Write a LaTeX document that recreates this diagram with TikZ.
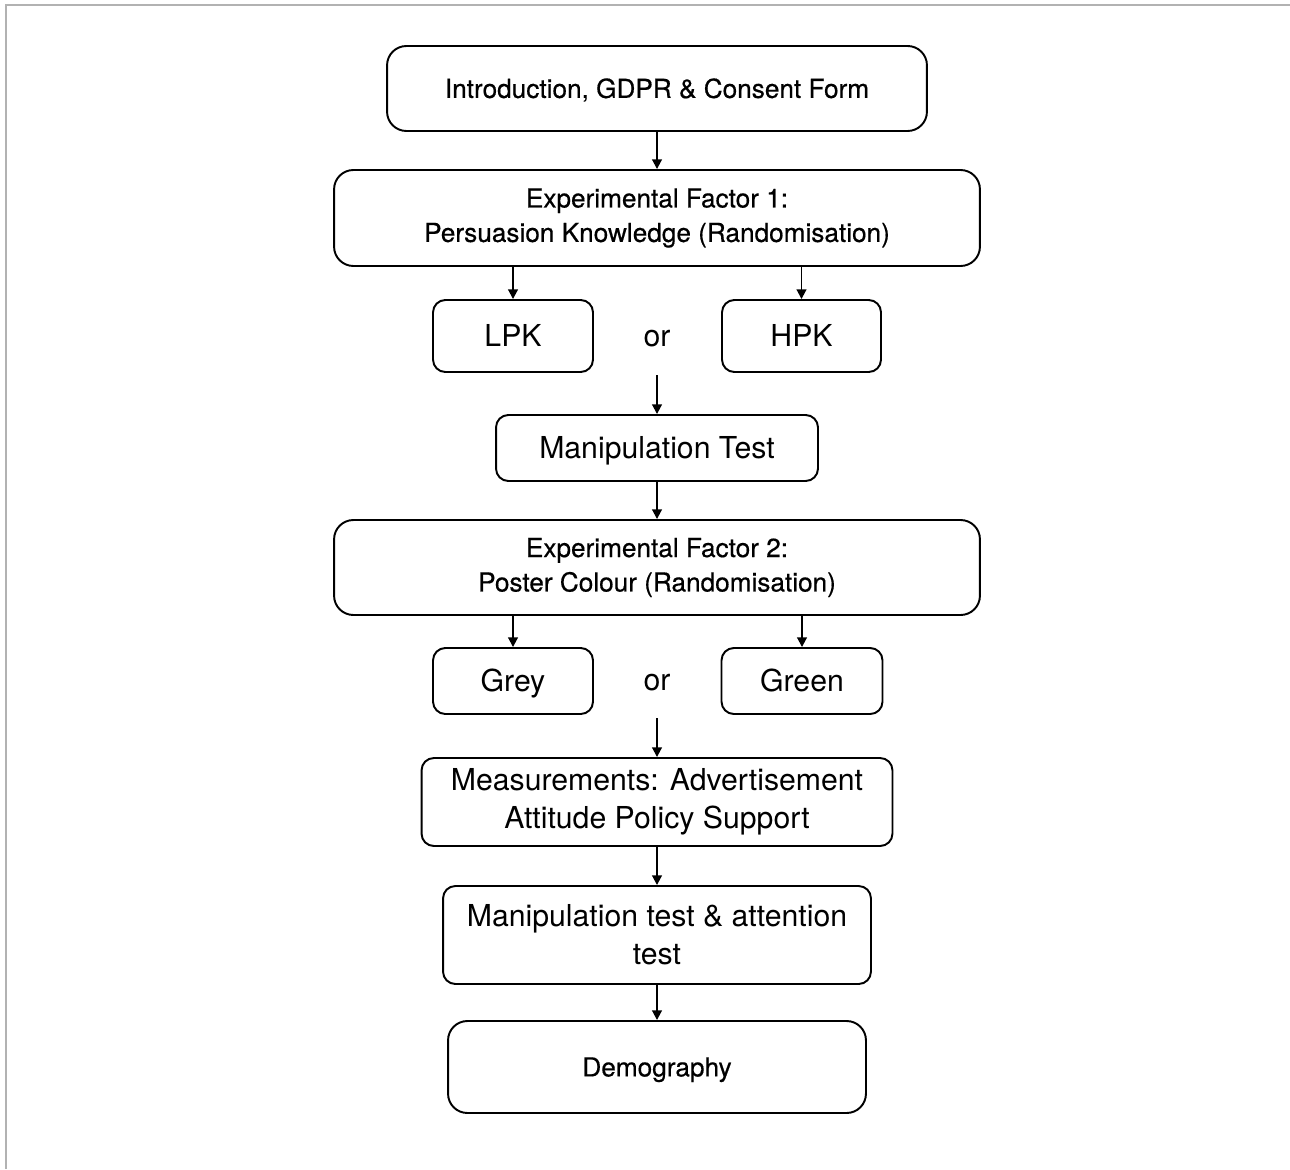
\documentclass[tikz,border=0pt]{standalone}
\usepackage{fontspec}
\setmainfont{TeX Gyre Heros}
\newfontfamily\headfont[FakeBold=0.5]{TeX Gyre Heros}
\usetikzlibrary{arrows.meta}

\newcommand{\smalltxt}{\headfont\fontsize{14.9pt}{19.6pt}\selectfont}
\newcommand{\bigtxt}{\fontsize{17.2pt}{21.6pt}\selectfont}

\begin{document}
\begin{tikzpicture}[x=0.02cm, y=-0.02cm, >={Triangle[length=5.5pt,width=5.5pt]},
   stage/.style={draw, line width=1.1pt, rounded corners=11pt, align=center, inner sep=0pt, font=\smalltxt},
   choice/.style={draw, line width=1.1pt, rounded corners=7pt, align=center, inner sep=0pt, font=\bigtxt},
   oneline/.style={text height=#1, text depth=0pt},
   oneline/.default=12.4pt,
   flow/.style={->, line width=1.1pt}]

\useasboundingbox (0,0) rectangle (1290,1169);
\draw [color=black!30, line width=1.2pt] (6,1169) -- (6,5) -- (1290,5);

% main stages
\node [stage, oneline=10.7pt, minimum width=10.8cm, minimum height=1.7cm] (intro) at (657,88.5)
   {Introduction, GDPR \& Consent Form};
\node [stage, minimum width=12.92cm, minimum height=1.92cm] (fa) at (657,218)
   {Experimental Factor 1:\\ Persuasion Knowledge (Randomisation)};

\node [choice, oneline, minimum width=3.2cm, minimum height=1.44cm] (lpk) at (513,336) {LPK};
\node [choice, oneline, minimum width=3.18cm, minimum height=1.44cm] (hpk) at (801.5,336) {HPK};
\node [font=\bigtxt, oneline, inner sep=0pt] (ora) at (657,336) {or};
\coordinate (ka) at (657,375);

\node [choice, oneline, minimum width=6.44cm, minimum height=1.32cm] (mtest) at (657,448) {Manipulation Test};
\node [stage, minimum width=12.92cm, minimum height=1.9cm] (fb) at (657,567.5)
   {Experimental Factor 2:\\ Poster Colour (Randomisation)};

\node [choice, oneline, minimum width=3.2cm, minimum height=1.32cm] (grey) at (513,681) {Grey};
\node [choice, oneline, minimum width=3.22cm, minimum height=1.32cm] (green) at (802,681) {Green};
\node [font=\bigtxt, oneline, inner sep=0pt] (orb) at (657,680) {or};
\coordinate (kb) at (657,718);

\node [choice, minimum width=9.42cm, minimum height=1.76cm] (meas) at (657,802)
   {Measurements: Advertisement\\ Attitude Policy Support};
\node [choice, minimum width=8.56cm, minimum height=1.96cm] (att) at (657,935)
   {Manipulation test \& attention\\ test};
\node [stage, oneline=10.7pt, minimum width=8.36cm, minimum height=1.84cm] (demo) at (657,1067)
   {Demography};

% arrows
\draw [flow] (intro) -- (fa);
\draw [flow] (fa.south -| lpk) -- (lpk);
\draw [flow] (fa.south -| hpk) -- (hpk);
\draw [flow] (ka) -- (mtest);
\draw [flow] (mtest) -- (fb);
\draw [flow] (fb.south -| grey) -- (grey);
\draw [flow] (fb.south -| green) -- (green);
\draw [flow] (kb) -- (meas);
\draw [flow] (meas) -- (att);
\draw [flow] (att) -- (demo);

\end{tikzpicture}
\end{document}
